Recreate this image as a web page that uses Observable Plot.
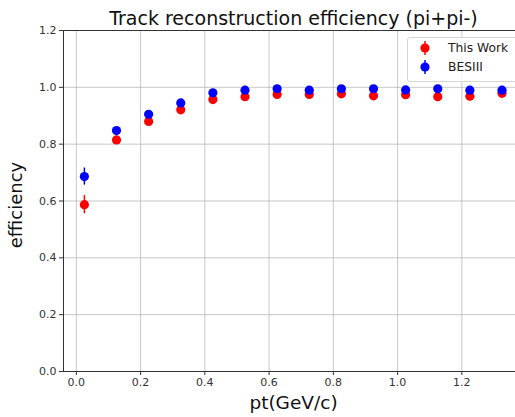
<!DOCTYPE html>
<html><head><meta charset="utf-8">
<script src="https://cdn.jsdelivr.net/npm/d3@7"></script>
<script src="https://cdn.jsdelivr.net/npm/@observablehq/plot@0.6"></script>
<style>
body{margin:0;background:#fff;font-family:"DejaVu Sans",sans-serif}
#wrap{position:relative;width:515px;height:417px;overflow:hidden}
#legend{position:absolute;left:407px;top:37px;width:115px;height:43px;border:1px solid #d6d6d6;border-radius:3px;background:rgba(255,255,255,0.8);font-size:12.3px;color:#222}
.item{position:absolute;left:0;height:16px;line-height:16px}
.item svg{position:absolute;left:10px;top:0}
.item span{position:absolute;left:40px;white-space:nowrap}
</style>
</head><body><div id="wrap"><div id="legend"></div></div>
<script>
const title = "Track reconstruction efficiency (pi+pi-)";
const xLabel = "pt(GeV/c)";
const yLabel = "efficiency";
const series = ["This Work", "BESIII"];
const seriesColors = ["red", "blue"];
const pt = [0.025,0.125,0.225,0.325,0.425,0.525,0.625,0.725,0.825,0.925,1.025,1.125,1.225,1.325];
const thisWork = [0.587,0.815,0.880,0.921,0.957,0.967,0.975,0.975,0.977,0.970,0.974,0.967,0.969,0.979];
const thisWorkErr = [0.032,0.010,0.008,0.006,0.005,0.005,0.005,0.005,0.005,0.005,0.005,0.005,0.005,0.005];
const besiii = [0.686,0.848,0.905,0.945,0.981,0.990,0.995,0.990,0.995,0.995,0.991,0.995,0.990,0.990];
const besiiiErr = [0.030,0.010,0.007,0.006,0.005,0.004,0.004,0.004,0.004,0.004,0.004,0.004,0.004,0.004];
const xTicks = [0.0,0.2,0.4,0.6,0.8,1.0,1.2];
const yTicks = [0.0,0.2,0.4,0.6,0.8,1.0,1.2];
const xDomain = [-0.04, 1.367];
const yDomain = [0, 1.2];

const rows = [];
pt.forEach((x,i)=>rows.push({pt:x, v:thisWork[i], e:thisWorkErr[i], s:series[0]}));
pt.forEach((x,i)=>rows.push({pt:x, v:besiii[i], e:besiiiErr[i], s:series[1]}));

const fmt = d => d.toFixed(1);
const chart = Plot.plot({
  width: 515, height: 417,
  marginLeft: 63, marginRight: 0, marginTop: 30, marginBottom: 46,
  style: {fontFamily: "DejaVu Sans, sans-serif", background: "white", overflow: "visible"},
  x: {domain: xDomain, label: null},
  y: {domain: yDomain, label: null},
  color: {domain: series, range: seriesColors},
  marks: [
    Plot.gridX(xTicks, {stroke: "#b0b0b0", strokeOpacity: 0.7, strokeWidth: 1}),
    Plot.gridY(yTicks, {stroke: "#b0b0b0", strokeOpacity: 0.7, strokeWidth: 1}),
    Plot.frame({stroke: "#333", strokeWidth: 1, insetRight: -5}),
    Plot.axisX(xTicks, {tickFormat: fmt, tickSize: 4, tickPadding: 3, fontSize: 11, fill: "#333", stroke: "#333", label: null}),
    Plot.axisY(yTicks, {tickFormat: fmt, tickSize: 4, tickPadding: 3, fontSize: 11, fill: "#333", stroke: "#333", label: null}),
    Plot.ruleX(rows, {x: "pt", y1: d => d.v - d.e, y2: d => d.v + d.e, stroke: "s", strokeWidth: 1.5}),
    Plot.dot(rows, {x: "pt", y: "v", fill: "s", r: 4.6, stroke: null}),
    Plot.text([title], {frameAnchor: "top", lineAnchor: "bottom", dy: -6, dx: 4, fontSize: 19, fill: "#111"}),
    Plot.text([xLabel], {frameAnchor: "bottom", lineAnchor: "middle", dy: 32, dx: 4, fontSize: 18.5, fill: "#111"}),
    Plot.text([yLabel], {frameAnchor: "left", textAnchor: "middle", rotate: -90, dx: -47, dy: 4, fontSize: 18, fill: "#111"})
  ]
});
document.getElementById("wrap").prepend(chart);

const legend = document.getElementById("legend");
series.forEach((name, i) => {
  const it = document.createElement("div");
  it.className = "item";
  it.style.top = (2 + i * 19) + "px";
  it.innerHTML = `<svg width="14" height="16"><line x1="7" x2="7" y1="1" y2="15" stroke="${seriesColors[i]}" stroke-width="1.5"/><circle cx="7" cy="8" r="4.6" fill="${seriesColors[i]}"/></svg><span>${name}</span>`;
  legend.appendChild(it);
});
</script>
</body></html>
